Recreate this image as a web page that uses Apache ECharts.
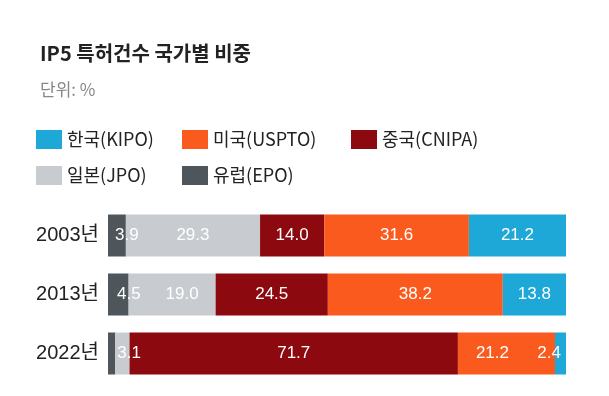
<!DOCTYPE html>
<html>
<head>
<meta charset="utf-8">
<script src="https://cdn.jsdelivr.net/npm/echarts@6/dist/echarts.min.js"></script>
<style>
html,body{margin:0;padding:0;background:#fff;}
#div1{width:609px;height:396px;}
</style>
</head>
<body>
<div id="div1"></div>
<script>
var years = ['2003년', '2013년', '2022년'];
var epo = [3.9, 4.5, 1.6];
var jpo = [29.3, 19.0, 3.1];
var cnipa = [14.0, 24.5, 71.7];
var uspto = [31.6, 38.2, 21.2];
var kipo = [21.2, 13.8, 2.4];

var FONT = 'Liberation Sans, Noto Sans CJK KR, sans-serif';
var KFONT = 'Noto Sans CJK KR, sans-serif';

function bar(name, color, values, labelFix) {
	return {
		name: name,
		type: 'bar',
		stack: 'all',
		barWidth: 42,
		itemStyle: { color: color },
		label: {
			show: true,
			position: 'inside',
			color: '#fff',
			fontFamily: FONT,
			fontSize: 17,
			formatter: function (p) { return p.value.toFixed(1); }
		},
		data: values.map(function (v, i) {
			var item = { value: v };
			if (labelFix && labelFix[i]) item.label = labelFix[i];
			return item;
		})
	};
}

var legendText = { fontFamily: KFONT, fontSize: 18, color: '#222' };

var chart = echarts.init(document.getElementById('div1'));
chart.setOption({
	animation: false,
	title: [{
		text: 'IP5 특허건수 국가별 비중',
		left: 35,
		top: 38,
		textStyle: { fontFamily: KFONT, fontSize: 20, fontWeight: 'bold', color: '#222' }
	}, {
		text: '단위: %',
		left: 35,
		top: 76,
		textStyle: { fontFamily: KFONT, fontSize: 17, fontWeight: 'normal', color: '#888' }
	}],
	legend: [{
		data: ['한국(KIPO)', '일본(JPO)'],
		left: 31, top: 125, orient: 'vertical', itemGap: 17,
		itemWidth: 26, itemHeight: 19, icon: 'rect',
		textStyle: legendText
	}, {
		data: ['미국(USPTO)', '유럽(EPO)'],
		left: 177, top: 125, orient: 'vertical', itemGap: 17,
		itemWidth: 26, itemHeight: 19, icon: 'rect',
		textStyle: legendText
	}, {
		data: ['중국(CNIPA)'],
		left: 346, top: 125, orient: 'vertical',
		itemWidth: 26, itemHeight: 19, icon: 'rect',
		textStyle: legendText
	}],
	grid: { left: 108, right: 43, top: 206, bottom: 13 },
	xAxis: { type: 'value', min: 0, max: 100, show: false },
	yAxis: {
		type: 'category',
		data: years,
		inverse: true,
		axisLine: { show: false },
		axisTick: { show: false },
		axisLabel: { fontFamily: FONT, fontSize: 20, color: '#222', margin: 9 }
	},
	series: [
		bar('유럽(EPO)', '#4e565c', epo, [
			{ position: 'insideLeft', distance: 7 },
			{ position: 'insideLeft', distance: 9 },
			{ show: false }
		]),
		bar('일본(JPO)', '#c8ccd1', jpo, [
			null,
			{ offset: [10, 0] },
			{ position: 'insideLeft', distance: 2 }
		]),
		bar('중국(CNIPA)', '#8c0a0f', cnipa),
		bar('미국(USPTO)', '#fa5a1e', uspto, [null, null, { offset: [-14, 0] }]),
		bar('한국(KIPO)', '#1da8d8', kipo, [null, null, { position: 'insideRight', distance: 5 }])
	]
});
</script>
</body>
</html>
